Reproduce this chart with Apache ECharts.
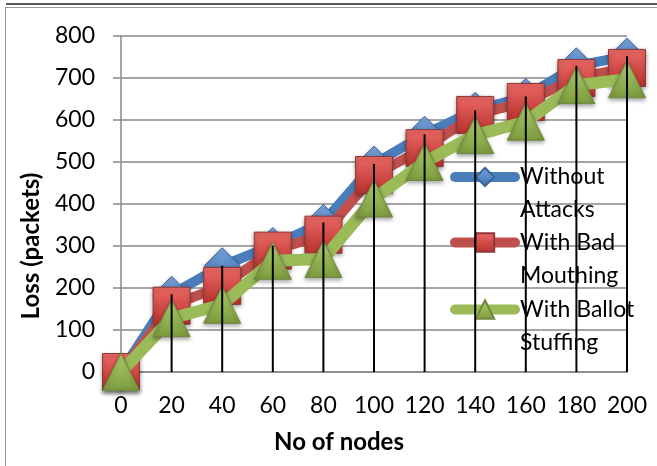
<!DOCTYPE html>
<html>
<head>
<meta charset="utf-8">
<script src="https://cdn.jsdelivr.net/npm/echarts@6/dist/echarts.min.js"></script>
<style>html,body{margin:0;padding:0;background:#fff}#c{width:657px;height:466px}</style>
</head>
<body>
<div id="c"></div>
<script>
var categories = ['0','20','40','60','80','100','120','140','160','180','200'];
var withoutAttacks = [0, 185, 253, 301, 356, 495, 566, 623, 656, 729, 752];
var badMouthing = [0, 158, 205, 289, 327, 469, 533, 612, 643, 700, 724];
var ballotStuffing = [0, 128, 160, 265, 269, 413, 500, 564, 596, 683, 697];
var seriesNames = ['Without Attacks', 'With Bad Mouthing', 'With Ballot Stuffing'];
var legendLabels = ['Without\nAttacks', 'With Bad\nMouthing', 'With Ballot\nStuffing'];
var yTicks = [0, 100, 200, 300, 400, 500, 600, 700, 800];

var FONT = 'Lato';
function grad(top, bottom) {
  return new echarts.graphic.LinearGradient(0, 0, 0, 1, [
    {offset: 0, color: top}, {offset: 1, color: bottom}
  ]);
}
var chart = echarts.init(document.getElementById('c'), null, {renderer: 'canvas'});

function lineSeries(name, data, color, lineW, symbol, symSize, fillTop, fillBot, border, z) {
  return {
    name: name, type: 'line', data: data, z: z,
    symbol: symbol, symbolSize: symSize, showAllSymbol: true,
    lineStyle: {color: color, width: lineW, cap: 'round', join: 'round'},
    itemStyle: {color: grad(fillTop, fillBot), borderColor: border, borderWidth: 1,
      shadowBlur: 4, shadowColor: 'rgba(0,0,0,0.35)', shadowOffsetY: 2},
    emphasis: {disabled: true},
    animation: false
  };
}

function legendFor(i, top) {
  return {
    data: [seriesNames[i]], left: 450, top: top, padding: 0,
    itemWidth: 60, itemHeight: 23,
    lineStyle: {width: 10, cap: 'round'},
    formatter: function () { return ' \n' + legendLabels[i]; },
    textStyle: {fontFamily: FONT, fontSize: 23, color: '#000', lineHeight: 33},
    selectedMode: false, z: 5
  };
}

chart.setOption({
  animation: false,
  backgroundColor: '#fff',
  grid: {left: 121, right: 30, top: 36, bottom: 94, containLabel: false},
  xAxis: {
    type: 'category', data: categories, boundaryGap: false,
    name: 'No of nodes', nameLocation: 'middle', nameGap: 58,
    nameTextStyle: {fontFamily: FONT, fontSize: 24, fontWeight: 'bold', color: '#000', padding: [0, 70, 0, 0]},
    axisLine: {lineStyle: {color: '#888', width: 1.5}},
    axisTick: {show: false},
    axisLabel: {fontFamily: FONT, fontSize: 23, color: '#000', margin: 22, interval: 0},
    splitLine: {show: false}
  },
  yAxis: {
    type: 'value', min: 0, max: 800, interval: 100,
    name: 'Loss (packets)', nameLocation: 'middle', nameGap: 78, nameRotate: 90,
    nameTextStyle: {fontFamily: FONT, fontSize: 24, fontWeight: 'bold', color: '#000', padding: [0, 84, 0, 0]},
    axisLine: {show: true, lineStyle: {color: '#888', width: 1.5}},
    axisTick: {show: true, length: 8, inside: false, lineStyle: {color: '#888', width: 1.5}},
    axisLabel: {fontFamily: FONT, fontSize: 23, color: '#000', margin: 26,
      formatter: function (v) { return yTicks.indexOf(v) >= 0 ? String(v) : ''; }},
    splitLine: {show: true, lineStyle: {color: '#888', width: 1.5}}
  },
  legend: [legendFor(0, 127.5), legendFor(1, 193), legendFor(2, 260)],
  series: [
    lineSeries(seriesNames[0], withoutAttacks, '#4A7EBB', 10, 'diamond', 36, '#7BA7DE', '#3A6DB0', '#3A6499', 2),
    lineSeries(seriesNames[1], badMouthing, '#C0504D', 10, 'rect', 37, '#EC6A66', '#B8302C', '#8C3836', 3),
    lineSeries(seriesNames[2], ballotStuffing, '#9BBB59', 12, 'triangle', 37, '#B2D26F', '#7A9A3C', '#71893F', 4),
    {
      name: 'drop', type: 'bar', data: withoutAttacks, barWidth: 2, z: 6,
      itemStyle: {color: '#000'}, emphasis: {disabled: true}, silent: true, animation: false
    }
  ],
  graphic: [
    {type: 'line', shape: {x1: 6, y1: 4, x2: 657, y2: 4}, style: {stroke: '#222', lineWidth: 1.5}, z: 100},
    {type: 'line', shape: {x1: 5, y1: 7.5, x2: 657, y2: 7.5}, style: {stroke: '#999', lineWidth: 1}, z: 100},
    {type: 'line', shape: {x1: 5.5, y1: 7, x2: 5.5, y2: 466}, style: {stroke: '#999', lineWidth: 1}, z: 100}
  ]
});
</script>
</body>
</html>
